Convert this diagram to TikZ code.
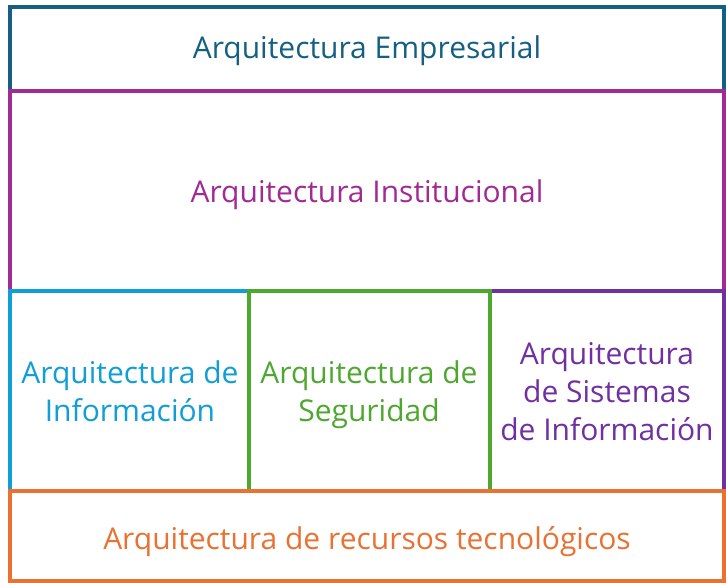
\documentclass[tikz,border=0pt]{standalone}
\usepackage{fontspec}
\setmainfont{Open Sans}
\definecolor{cEmp}{HTML}{156082}
\definecolor{cIns}{HTML}{A02B93}
\definecolor{cInf}{HTML}{0F9ED5}
\definecolor{cSeg}{HTML}{4EA72E}
\definecolor{cSis}{HTML}{7030A0}
\definecolor{cRec}{HTML}{E97132}
\tikzset{
  layer/.style={draw=#1, line width=4pt, fill=white},
  lbl/.style={text=#1, font=\fontsize{30}{38}\selectfont, align=center, inner sep=0pt, anchor=base}
}
\begin{document}
\begin{tikzpicture}[x=1pt,y=-1pt]
\useasboundingbox (0,0) rectangle (726,583);
\draw[layer=cEmp] (10,7) rectangle (724,91);
\draw[layer=cIns] (10,91) rectangle (724,291);
\draw[layer=cInf] (10,291) rectangle (249,491);
\draw[layer=cSis] (490,291) rectangle (724,491);
\draw[layer=cSeg] (249,291) rectangle (490,491);
\draw[layer=cRec] (10,491) rectangle (724,581);
\node[lbl=cEmp] (emp) at (367,59) {Arquitectura Empresarial};
\node[lbl=cIns] (ins) at (367,202) {Arquitectura Institucional};
\node[lbl=cInf] (inf) at (130,421) {Arquitectura de\\Información};
\node[lbl=cSeg] (seg) at (369,421) {Arquitectura de\\Seguridad};
\node[lbl=cSis] (sis) at (607,440) {Arquitectura\\de Sistemas\\de Información};
\node[lbl=cRec] (rec) at (367,549) {Arquitectura de recursos tecnológicos};
\end{tikzpicture}
\end{document}
